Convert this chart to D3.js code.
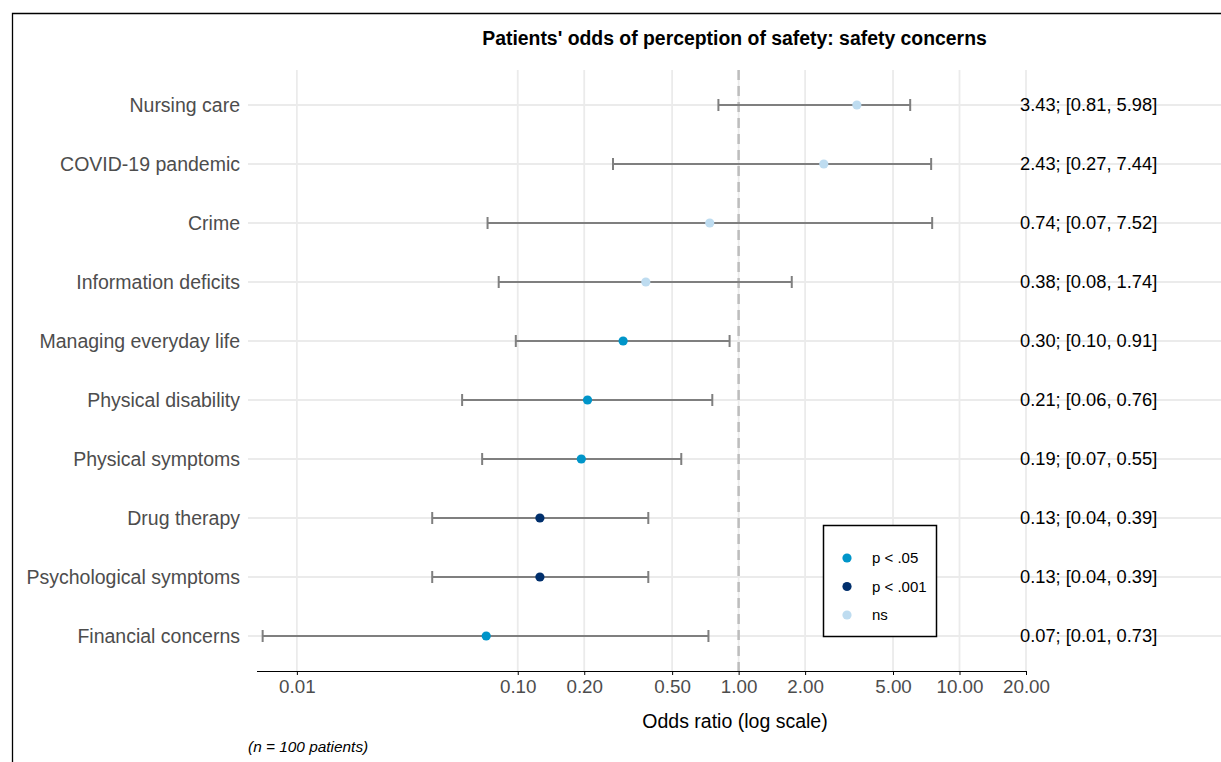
<!DOCTYPE html>
<html>
<head>
<meta charset="utf-8">
<script src="https://cdn.jsdelivr.net/npm/d3@7"></script>
<style>
  html, body { margin: 0; padding: 0; background: #fff; }
  svg { display: block; font-family: "Liberation Sans", Arial, sans-serif; }
</style>
</head>
<body>
<svg id="chart" width="1221" height="762"></svg>
<script>
const categories = ["Nursing care", "COVID-19 pandemic", "Crime", "Information deficits",
  "Managing everyday life", "Physical disability", "Physical symptoms", "Drug therapy",
  "Psychological symptoms", "Financial concerns"];
const oddsRatio = [3.43, 2.43, 0.74, 0.38, 0.30, 0.207, 0.194, 0.126, 0.126, 0.072];
const ciLower  = [0.81, 0.27, 0.073, 0.082, 0.098, 0.056, 0.069, 0.041, 0.041, 0.007];
const ciUpper  = [5.98, 7.44, 7.52, 1.74, 0.91, 0.76, 0.55, 0.39, 0.39, 0.73];
const significance = ["ns", "ns", "ns", "ns", "p < .05", "p < .05", "p < .05", "p < .001", "p < .001", "p < .05"];
const legendLevels = ["p < .05", "p < .001", "ns"];
const levelColors = ["#0095c9", "#002f6c", "#bedcf0"];
const tickValues = [0.01, 0.1, 0.2, 0.5, 1, 2, 5, 10, 20];
const titleText = "Patients' odds of perception of safety: safety concerns";
const xTitle = "Odds ratio (log scale)";
const captionText = "(n = 100 patients)";

const svg = d3.select("#chart");
const fmt = d3.format(".2f");

const x = d3.scaleLog().domain([0.0066, 20]).range([257, 1026]);
const y = d3.scalePoint().domain(categories).range([105, 636]);
const color = d3.scaleOrdinal().domain(legendLevels).range(levelColors);
const panelTop = 70, panelBottom = 671;

// frame
svg.append("path").attr("d", "M12.5,780 L12.5,13.5 L1240,13.5")
  .attr("fill", "none").attr("stroke", "#000").attr("stroke-width", 1.3);

// grid
const grid = svg.append("g");
grid.selectAll("line.h").data(categories).join("line")
  .attr("x1", 248).attr("x2", 1221)
  .attr("y1", d => y(d)).attr("y2", d => y(d))
  .attr("stroke", "#ebebeb").attr("stroke-width", 1.8);
grid.selectAll("line.v").data(tickValues).join("line")
  .attr("x1", d => x(d)).attr("x2", d => x(d))
  .attr("y1", panelTop).attr("y2", panelBottom)
  .attr("stroke", "#ebebeb").attr("stroke-width", 1.8);

// reference line at 1
svg.append("line").attr("x1", x(1)).attr("x2", x(1))
  .attr("y1", panelTop).attr("y2", panelBottom)
  .attr("stroke", "#bdbdbd").attr("stroke-width", 2.5)
  .attr("stroke-dasharray", "10,6");

const rows = categories.map((c, i) => ({c, or: oddsRatio[i], lo: ciLower[i], hi: ciUpper[i], sig: significance[i]}));

// error bars
const eb = svg.append("g").attr("stroke", "#7f7f7f").attr("stroke-width", 2);
eb.selectAll("line.bar").data(rows).join("line")
  .attr("x1", d => x(d.lo)).attr("x2", d => x(d.hi))
  .attr("y1", d => y(d.c)).attr("y2", d => y(d.c));
eb.selectAll("line.capl").data(rows).join("line")
  .attr("x1", d => x(d.lo)).attr("x2", d => x(d.lo))
  .attr("y1", d => y(d.c) - 6).attr("y2", d => y(d.c) + 6);
eb.selectAll("line.capr").data(rows).join("line")
  .attr("x1", d => x(d.hi)).attr("x2", d => x(d.hi))
  .attr("y1", d => y(d.c) - 6).attr("y2", d => y(d.c) + 6);

// points
svg.append("g").selectAll("circle").data(rows).join("circle")
  .attr("cx", d => x(d.or)).attr("cy", d => y(d.c)).attr("r", 4.6)
  .attr("fill", d => color(d.sig));

// category labels
svg.append("g").selectAll("text").data(categories).join("text")
  .attr("x", 240).attr("y", d => y(d)).attr("dy", "0.35em")
  .attr("text-anchor", "end").attr("fill", "#4d4d4d")
  .style("font-size", "19.5px").text(d => d);

// right labels
svg.append("g").selectAll("text").data(rows).join("text")
  .attr("x", 1020).attr("y", d => y(d.c)).attr("dy", "0.35em")
  .attr("fill", "#000").style("font-size", "18.3px")
  .text(d => `${fmt(d.or)}; [${fmt(d.lo)}, ${fmt(d.hi)}]`);

// x axis
const axis = svg.append("g").attr("transform", `translate(0,${panelBottom})`)
  .call(d3.axisBottom(x).tickValues(tickValues).tickFormat(fmt).tickSize(4).tickPadding(5));
axis.select(".domain").attr("stroke", "#000").attr("d", `M${x.range()[0]},0.5H${x.range()[1]}`);
axis.selectAll(".tick line").attr("stroke", "#000");
axis.selectAll(".tick text").attr("fill", "#4d4d4d").style("font-size", "18.8px")
  .style("font-family", "'Liberation Sans', Arial, sans-serif");

// axis title
svg.append("text").attr("x", 735).attr("y", 728).attr("text-anchor", "middle")
  .style("font-size", "19.5px").attr("fill", "#000").text(xTitle);

// title
svg.append("text").attr("x", 734.5).attr("y", 45).attr("text-anchor", "middle")
  .style("font-size", "19.4px").style("font-weight", "bold").attr("fill", "#000").text(titleText);

// caption
svg.append("text").attr("x", 248).attr("y", 752)
  .style("font-size", "15.4px").style("font-style", "italic").attr("fill", "#000").text(captionText);

// legend
const lg = svg.append("g");
lg.append("rect").attr("x", 823.5).attr("y", 525.5).attr("width", 113).attr("height", 111)
  .attr("fill", "#fff").attr("stroke", "#000").attr("stroke-width", 1.5);
const li = lg.selectAll("g.item").data(legendLevels).join("g")
  .attr("transform", (d, i) => `translate(847,${558 + i * 28.5})`);
li.append("circle").attr("r", 4.6).attr("fill", d => color(d));
li.append("text").attr("x", 25).attr("dy", "0.35em").style("font-size", "15px")
  .attr("fill", "#000").text(d => d);
</script>
</body>
</html>
